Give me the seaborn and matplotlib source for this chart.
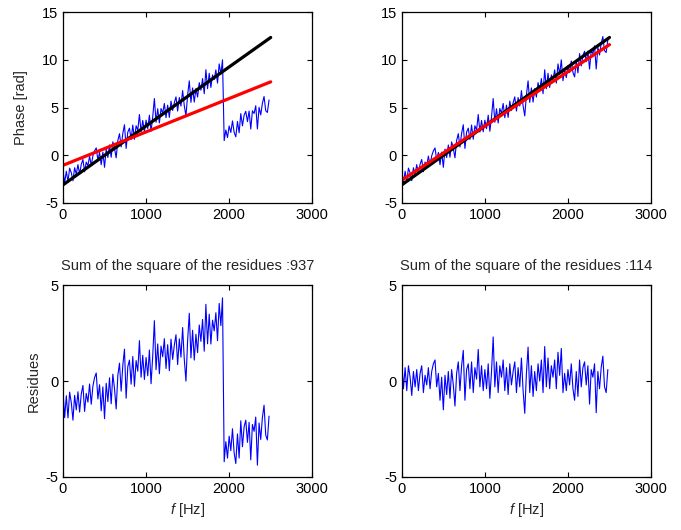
import numpy as np
import pandas as pd
import matplotlib
matplotlib.use("Agg")
import matplotlib.pyplot as plt
import seaborn as sns

# Frequency axis of the measurement (Hz)
freq = np.arange(0, 2500, 20)

# Residues of the unwrapped phase around its linear fit (rad)
residues_unwrapped = np.array([
    1.0, -0.4, 0.7, -0.5, 0.8, 0.2, -0.75, 0.5, -0.3, 0.6,
    -0.5, 0.4, 0.8, -0.6, 0.3, -0.2, 0.7, -0.4, 0.5, 0.9,
    1.1, -0.3, 0.4, -1.0, 0.2, -1.5, 0.3, -0.7, 0.5, -0.9,
    0.6, -0.2, -1.3, 0.4, 1.0, -0.5, 0.8, 1.6, -1.0, 0.6,
    0.9, -0.4, 1.0, -0.6, 0.7, 0.1, 1.65, -0.3, 0.8, -0.5,
    0.6, -0.4, 0.9, -0.9, 0.5, 2.3, -0.3, 1.0, -0.6, 0.8,
    0.2, 1.1, -0.5, 0.7, -0.7, 0.9, -0.2, 0.5, 1.0, -0.6,
    0.7, -0.3, 1.2, -0.5, -1.68, 0.4, 1.77, -0.6, 0.8, -0.8,
    0.5, -0.5, 0.9, 0.0, 1.1, -0.6, 1.8, -0.3, 1.2, -0.4,
    0.8, 0.2, 1.1, -0.4, 1.5, 0.3, 1.7, -0.6, 0.4, -0.5,
    0.6, -0.2, 0.9, -0.4, -1.0, 0.5, -0.8, 1.1, -0.3, 0.7,
    1.0, -0.2, 0.8, -1.2, 0.6, 0.2, 0.9, -1.65, 0.5, -0.4,
    0.7, 1.3, -0.3, -0.6, 0.6,
])

# Straight lines given by their end points (Hz, rad)
line_freq = [0, 2500]
true_phase = [-3.1, 12.35]          # theoretical phase (black)
fit_wrapped = [-1.05, 7.7]          # linear fit of the wrapped phase (red, left)
fit_unwrapped = [-2.6, 11.6]        # linear fit of the unwrapped phase (red, right)

# Frequency above which the measured phase has jumped by -2*pi
wrap_freq = 1940

# Measured phase: unwrapped and with the 2*pi jump
phase_unwrapped = np.interp(freq, line_freq, fit_unwrapped) + residues_unwrapped
phase_wrapped = np.where(freq >= wrap_freq, phase_unwrapped - 2 * np.pi, phase_unwrapped)
residues_wrapped = phase_wrapped - np.interp(freq, line_freq, fit_wrapped)

titles = ["Sum of the square of the residues :937",
          "Sum of the square of the residues :114"]

sns.set_theme(style="ticks")
plt.rcParams["font.family"] = ["Liberation Sans", "DejaVu Sans"]
plt.rcParams.update({
    "font.size": 10,
    "axes.unicode_minus": False,
    "mathtext.fontset": "custom",
    "mathtext.it": "Liberation Sans:italic",
    "mathtext.rm": "Liberation Sans",
    "axes.linewidth": 0.9,
    "axes.edgecolor": "black",
    "xtick.direction": "in",
    "ytick.direction": "in",
    "xtick.top": True,
    "ytick.right": True,
    "xtick.major.size": 3.5,
    "ytick.major.size": 3.5,
    "xtick.major.width": 0.8,
    "ytick.major.width": 0.8,
    "xtick.labelsize": 10.5,
    "ytick.labelsize": 10.5,
    "xtick.color": "black",
    "ytick.color": "black",
})

fig = plt.figure(figsize=(6.81, 5.30), dpi=100)
left_x = [0.0925, 0.590]
width = 0.366
ax_tl = fig.add_axes([left_x[0], 0.617, width, 0.360])
ax_tr = fig.add_axes([left_x[1], 0.617, width, 0.360])
ax_bl = fig.add_axes([left_x[0], 0.100, width, 0.362])
ax_br = fig.add_axes([left_x[1], 0.100, width, 0.362])

blue = "#0000ff"
red = "#ff0000"
thin = 0.8

lines_df = pd.DataFrame({"f": line_freq, "true": true_phase,
                         "fit_w": fit_wrapped, "fit_u": fit_unwrapped})
meas_df = pd.DataFrame({"f": freq, "wrapped": phase_wrapped,
                        "unwrapped": phase_unwrapped,
                        "res_w": residues_wrapped, "res_u": residues_unwrapped})

# Phase panels
for ax, meas_col, fit_col in [(ax_tl, "wrapped", "fit_w"), (ax_tr, "unwrapped", "fit_u")]:
    sns.lineplot(data=meas_df, x="f", y=meas_col, ax=ax, color=blue,
                 linewidth=thin, estimator=None, sort=False)
    sns.lineplot(data=lines_df, x="f", y="true", ax=ax, color="black",
                 linewidth=2.3, estimator=None, sort=False)
    sns.lineplot(data=lines_df, x="f", y=fit_col, ax=ax, color=red,
                 linewidth=2.3, estimator=None, sort=False)
    ax.set_xlim(0, 3000)
    ax.set_ylim(-5, 15)
    ax.set_yticks([-5, 0, 5, 10, 15])
    ax.set_xlabel("")
    ax.set_ylabel("")

# Residue panels
for ax, res_col, title in [(ax_bl, "res_w", titles[0]), (ax_br, "res_u", titles[1])]:
    sns.lineplot(data=meas_df, x="f", y=res_col, ax=ax, color=blue,
                 linewidth=thin, estimator=None, sort=False)
    ax.set_xlim(0, 3000)
    ax.set_ylim(-5, 5)
    ax.set_yticks([-5, 0, 5])
    ax.set_title(title, fontsize=10.5, pad=11)
    ax.set_xlabel("$f$ [Hz]", fontsize=10.5, labelpad=4)
    ax.set_ylabel("")

for ax in (ax_tl, ax_tr, ax_bl, ax_br):
    ax.set_xticks([0, 1000, 2000, 3000])
    for s in ax.spines.values():
        s.set_visible(True)
        s.set_color("black")

ax_tl.set_ylabel("Phase [rad]", fontsize=10.5, labelpad=10)
ax_bl.set_ylabel("Residues", fontsize=10.5, labelpad=3)

fig.savefig("out.png", dpi=100)
